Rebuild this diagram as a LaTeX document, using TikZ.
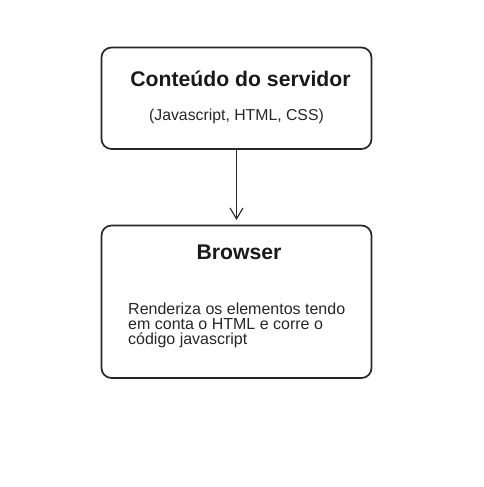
\documentclass[tikz,border=0pt]{standalone}
\usepackage{fontspec}
\setmainfont{Liberation Sans}
\usetikzlibrary{arrows.meta}
\begin{document}
\begin{tikzpicture}[x=1pt,y=-1pt,
  boxstyle/.style={draw=black!85, line width=1.7pt, rounded corners=10pt},
  titlestyle/.style={font=\fontsize{21.2}{24}\selectfont\bfseries, text=black!90},
  substyle/.style={font=\fontsize{15.8}{18}\selectfont, text=black!85},
  bodystyle/.style={font=\fontsize{16}{15}\selectfont, text=black!85, align=left, anchor=north west, inner sep=0pt}]
\useasboundingbox (0,0) rectangle (484,487);
\draw[boxstyle] (101.5,47.5) rectangle (371.5,149);
\coordinate (b1) at (236.5,149);
\node[titlestyle] (t1) at (240.5,79) {Conteúdo do servidor};
\node[substyle] (s1) at (236.5,116) {(Javascript, HTML, CSS)};
\draw[boxstyle] (101.5,225.5) rectangle (371.5,378);
\coordinate (b2) at (236.5,220);
\node[titlestyle] (t2) at (239,252.5) {Browser};
\node[bodystyle] (s2) at (128,302.5) {Renderiza os elementos tendo\\em conta o HTML e corre o\\código javascript};
\draw[line width=1.1pt, black!85, -{Straight Barb[length=11pt,width=13pt]}] (b1) -- (b2);
\end{tikzpicture}
\end{document}
